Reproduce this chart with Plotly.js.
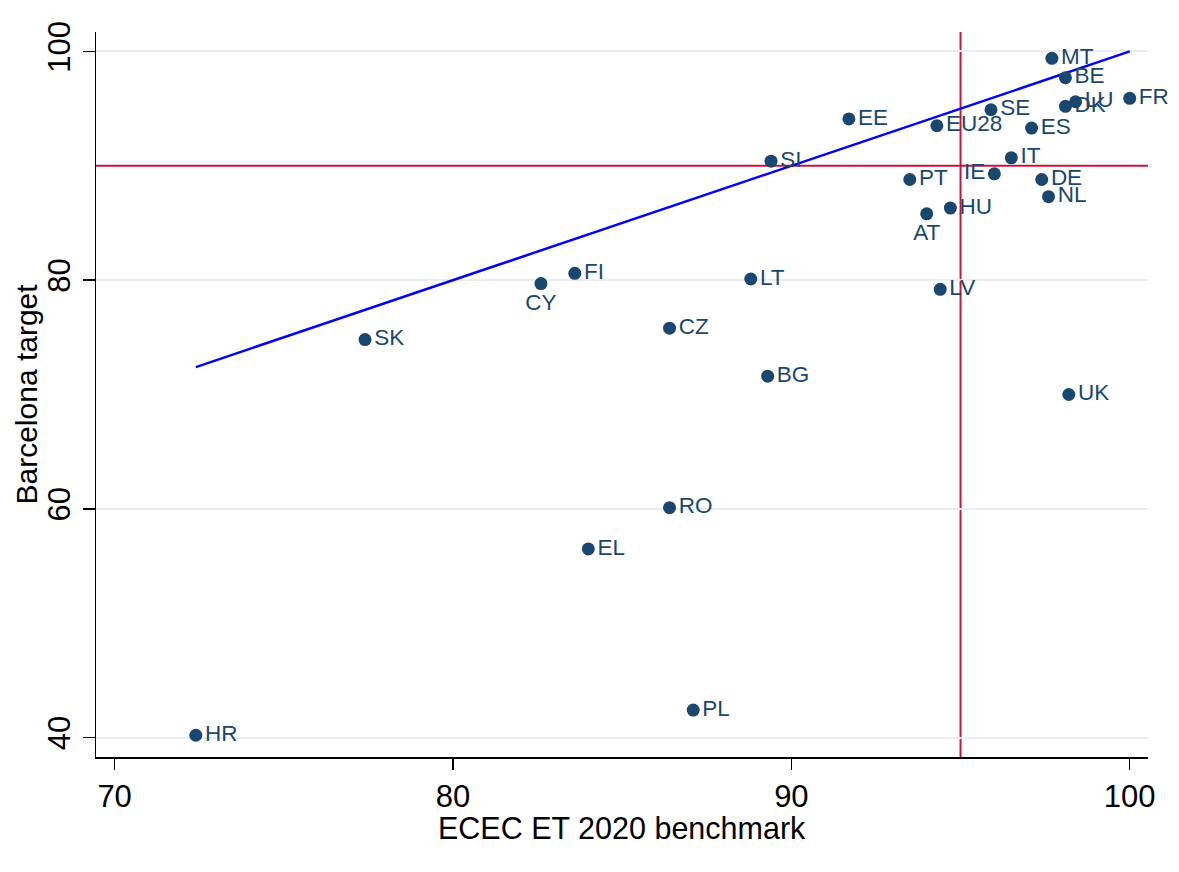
<!DOCTYPE html>
<html>
<head>
<meta charset="utf-8">
<script src="https://cdn.plot.ly/plotly-3.0.1.min.js"></script>
<style>
  html, body { margin: 0; padding: 0; background: #ffffff; }
  #chart { width: 1179px; height: 872px; }
</style>
</head>
<body>
<div id="chart"></div>
<script>
// Country codes
const countries = ["MT","BE","DK","LU","FR","SE","EU28","ES","IT","IE","PT","DE","NL","HU","AT",
                   "EE","SI","LV","FI","CY","LT","CZ","BG","SK","UK","RO","EL","PL","HR"];
// ECEC ET 2020 benchmark (x)
const ecec = [97.7, 98.1, 98.1, 98.4, 100.0, 95.9, 94.3, 97.1, 96.5, 96.0, 93.5, 97.4, 97.6, 94.7, 94.0,
              91.7, 89.4, 94.4, 83.6, 82.6, 88.8, 86.4, 89.3, 77.4, 98.2, 86.4, 84.0, 87.1, 72.4];
// Barcelona target (y)
const barcelona = [99.4, 97.7, 95.2, 95.6, 95.9, 94.9, 93.5, 93.3, 90.7, 89.3, 88.8, 88.8, 87.3, 86.3, 85.8,
                   94.1, 90.4, 79.2, 80.6, 79.7, 80.1, 75.8, 71.6, 74.8, 70.0, 60.1, 56.5, 42.4, 40.2];
// Label placement per country
const labelPos = countries.map(c => c === "CY" || c === "AT" ? "bottom center" : (c === "IE" ? "middle left" : "middle right"));

// Reference targets
const ececTarget = 95;
const barcelonaTarget = 90;

// Axis titles
const xTitle = "ECEC ET 2020 benchmark";
const yTitle = "Barcelona target";

// 45-degree line over data range
const xMin = Math.min(...ecec), xMax = Math.max(...ecec);
const diagX = [xMin, xMax];
const diagY = [xMin, xMax];

const navy = "#1a476f";
const red = "#c8143c";
const font = "Liberation Sans, Arial, sans-serif";

const traces = [
  {
    x: diagX, y: diagY, type: "scatter", mode: "lines",
    line: { color: "#0000ff", width: 2.5 },
    hoverinfo: "skip", showlegend: false
  },
  {
    x: ecec, y: barcelona, text: countries, type: "scatter", mode: "markers+text",
    textposition: labelPos,
    cliponaxis: false,
    textfont: { family: font, size: 22.5, color: navy },
    marker: { color: navy, size: 13 },
    showlegend: false
  }
];

const layout = {
  width: 1179, height: 872,
  paper_bgcolor: "#ffffff", plot_bgcolor: "#ffffff",
  margin: { l: 96, r: 31, t: 32, b: 115 },
  font: { family: font, color: "#000000" },
  showlegend: false,
  xaxis: {
    range: [69.45, 100.54],
    tickvals: [70, 80, 90, 100],
    ticktext: ["70", "80", "90", "100"],
    ticks: "outside", ticklen: 11, tickwidth: 1.5, tickcolor: "#000000",
    showgrid: false, zeroline: false,
    showline: true, linecolor: "#000000", linewidth: 1.5,
    tickfont: { family: font, size: 31, color: "#000000" }
  },
  yaxis: {
    range: [38.3, 101.7],
    tickvals: [40, 60, 80, 100],
    ticktext: ["40", "60", "80", "100"],
    tickangle: -90,
    ticks: "outside", ticklen: 12, tickwidth: 1.5, tickcolor: "#000000",
    showgrid: true, gridcolor: "#e8eff3", gridwidth: 2,
    zeroline: false,
    showline: true, linecolor: "#000000", linewidth: 1.5,
    tickfont: { family: font, size: 31, color: "#000000" }
  },
  annotations: [
    { text: xTitle, xref: "paper", yref: "paper", x: 0.5, y: 0, yshift: -71,
      xanchor: "center", yanchor: "middle", showarrow: false,
      font: { family: font, size: 30.5, color: "#000000" } },
    { text: yTitle, xref: "paper", yref: "paper", x: 0, y: 0.5, xshift: -70, textangle: -90,
      xanchor: "center", yanchor: "middle", showarrow: false,
      font: { family: font, size: 30, color: "#000000" } }
  ],
  shapes: [
    { type: "line", xref: "x", yref: "paper", x0: ececTarget, x1: ececTarget, y0: 0, y1: 1,
      line: { color: red, width: 2 }, layer: "below" },
    { type: "line", xref: "paper", yref: "y", x0: 0, x1: 1, y0: barcelonaTarget, y1: barcelonaTarget,
      line: { color: red, width: 2 }, layer: "below" }
  ]
};

Plotly.newPlot("chart", traces, layout, { displayModeBar: false, staticPlot: true });
</script>
</body>
</html>
